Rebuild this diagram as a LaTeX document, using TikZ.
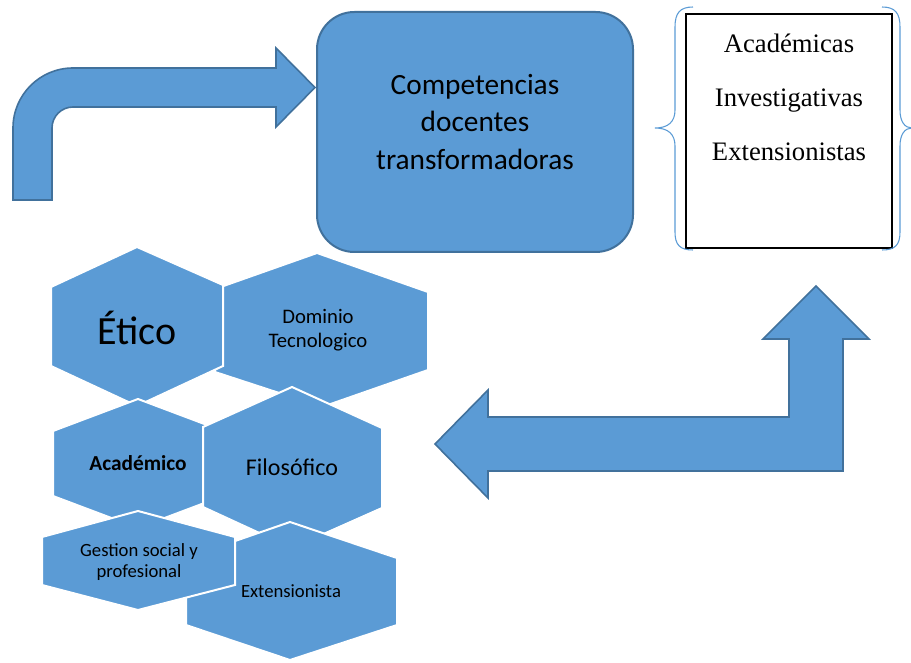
\documentclass[tikz,border=0pt]{standalone}
\usepackage{fontspec}
\setmainfont{Carlito}
\newfontfamily\serifa{Liberation Serif}
\usepackage{tikz}
\definecolor{azul}{RGB}{91,155,213}
\definecolor{bordeazul}{RGB}{65,113,156}
\tikzset{
	flecha/.style={fill=azul, draw=bordeazul, line width=1.2pt, line join=miter},
	hexa/.style={fill=azul, draw=white, line width=1.5pt, line join=miter},
	llave/.style={draw=azul, line width=0.8pt},
	texto/.style={align=center, inner sep=0pt}
}

\begin{document}
\begin{tikzpicture}[x=0.75pt, y=-0.75pt, >=latex]
		%\draw [help lines] (0,0) grid (911,663);
		\useasboundingbox (0,0) rectangle (911,663);
		%flecha arriba
		\draw[flecha] (13,200) -- (13,128) arc (180:270:60) -- (276,68) -- (276,48) -- (315,87.5)
			-- (276,127) -- (276,107) -- (73,107) arc (270:180:21) -- (52,200) -- cycle;
		%competencias
		\draw[fill=azul, draw=bordeazul, line width=1.5pt, rounded corners=28pt] (317,12) rectangle (633,252);
		\node[texto, font={\fontsize{22}{28}\selectfont}] (comp) at (475,122) {Competencias\\docentes\\transformadoras};
		%lista
		\draw[black, line width=1.1pt] (686,14) rectangle (892,248);
		\node[texto, font={\serifa\fontsize{20}{40.5}\selectfont}] (lista) at (789,97) {Académicas\\Investigativas\\Extensionistas};
		\draw[llave] (693,7) .. controls (680,7) and (675,13) .. (675,27) -- (675,110)
			.. controls (675,122) and (668,128) .. (655,128) .. controls (668,128) and (675,134) .. (675,146)
			-- (675,232) .. controls (675,245) and (680,250) .. (693,250);
		\draw[llave] (882,7) .. controls (895,7) and (900,13) .. (900,27) -- (900,110)
			.. controls (900,122) and (905,128) .. (912,128) .. controls (905,128) and (900,134) .. (900,146)
			-- (900,232) .. controls (900,245) and (895,250) .. (882,250);
		%flecha abajo
		\draw[flecha] (435,444) -- (488,390) -- (488,417) -- (789,417) -- (789,339) -- (763,339) -- (816,286)
			-- (869,339) -- (843,339) -- (843,471) -- (488,471) -- (488,498) -- cycle;
		%hexagonos
		\draw[hexa] (317,253) -- (428,292) -- (428,370) -- (322,407) -- (215,372) -- (215,289) -- cycle;
		\node[texto, font={\fontsize{15.5}{18}\selectfont}] (dominio) at (318,330) {Dominio\\Tecnologico};
		\draw[hexa] (137,247) -- (223,285) -- (223,366) -- (137,406) -- (51,366) -- (51,287) -- cycle;
		\node[texto, font={\fontsize{30}{36}\selectfont}] (etico) at (137,328) {Ético};
		\draw[hexa] (138,399) -- (223,431) -- (223,496) -- (138,528) -- (53,496) -- (53,431) -- cycle;
		\node[texto, font={\bfseries\fontsize{16}{19}\selectfont}] (academico) at (138,463) {Académico};
		\draw[hexa] (292,387) -- (382,428) -- (382,508) -- (292,548) -- (203,507) -- (203,427) -- cycle;
		\node[texto, font={\fontsize{18}{22}\selectfont}] (filosofico) at (292,467) {Filosófico};
		\draw[hexa] (290,522) -- (397,558) -- (397,625) -- (290,660) -- (186,625) -- (186,558) -- cycle;
		\node[texto, font={\fontsize{14}{17}\selectfont}] (extension) at (291,591) {Extensionista};
		\draw[hexa] (138,511) -- (235,537) -- (235,585) -- (138,610) -- (42,585) -- (42,537) -- cycle;
		\node[texto, font={\fontsize{14}{15.5}\selectfont}] (gestion) at (139,562) {Gestion social y\\profesional};
	\end{tikzpicture}
\end{document}
